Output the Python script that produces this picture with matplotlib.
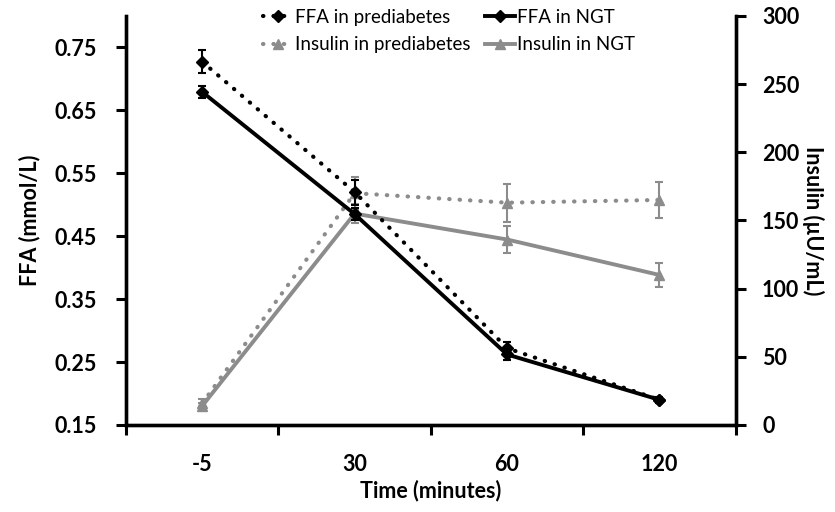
import numpy as np
import matplotlib.pyplot as plt
from matplotlib.lines import Line2D

plt.rcParams['font.family'] = ['Lato', 'DejaVu Sans']

## data
times = ['-5', '30', '60', '120']
ffa_pre = [0.727, 0.52, 0.272, 0.19]
ffa_pre_err = [0.018, 0.02, 0.01, 0.005]
ffa_ngt = [0.679, 0.485, 0.262, 0.19]
ffa_ngt_err = [0.01, 0.01, 0.008, 0.005]
ins_pre = [16, 170, 163, 165]
ins_pre_err = [3, 12, 14, 13]
ins_ngt = [14, 155, 136, 110]
ins_ngt_err = [2, 7, 10, 9]

gray = '#8c8c8c'
dots = (0, (0.1, 2.4))
x = np.arange(len(times))

fig = plt.figure(figsize=(8.35, 5.12), dpi=100)
ax = fig.add_axes([0.151, 0.17, 0.73, 0.799])
ax2 = ax.twinx()

##insulin on right axis
ax2.errorbar(x, ins_pre, yerr=ins_pre_err, color=gray, ls=dots, lw=3,
             dash_capstyle='round', marker='^', ms=7.5, capsize=3, elinewidth=1.5, capthick=1.5)
ax2.errorbar(x, ins_ngt, yerr=ins_ngt_err, color=gray, ls='-', lw=2.8,
             marker='^', ms=7.5, capsize=3, elinewidth=1.5, capthick=1.5)

##ffa on left axis, drawn on top
ax.set_zorder(ax2.get_zorder() + 1)
ax.patch.set_visible(False)
ax.errorbar(x, ffa_pre, yerr=ffa_pre_err, color='black', ls=dots, lw=3,
            dash_capstyle='round', marker='D', ms=6.5, capsize=3, elinewidth=1.5, capthick=1.5)
ax.errorbar(x, ffa_ngt, yerr=ffa_ngt_err, color='black', ls='-', lw=2.8,
            marker='D', ms=6.5, capsize=3, elinewidth=1.5, capthick=1.5)

ax.set_xlim(-0.5, 3.5)
ax.set_ylim(0.15, 0.8)
ax.set_yticks([0.15, 0.25, 0.35, 0.45, 0.55, 0.65, 0.75])
ax.set_yticklabels(['0.15', '0.25', '0.35', '0.45', '0.55', '0.65', '0.75'])
ax2.set_ylim(0, 300)
ax2.set_yticks([0, 50, 100, 150, 200, 250, 300])

ax.set_xticks(x)
ax.set_xticklabels(times)
ax.set_xticks(np.arange(-0.5, 4, 1), minor=True)
ax.tick_params(axis='x', which='major', length=0, pad=21)
ax.tick_params(axis='x', which='minor', length=7, width=2.2)

for a in (ax, ax2):
    a.spines['top'].set_visible(False)
    for s in ('left', 'right', 'bottom'):
        a.spines[s].set_linewidth(2.4)
    a.tick_params(axis='y', length=7, width=2.2, labelsize=15.5)
    for lab in a.get_yticklabels():
        lab.set_fontweight('bold')
ax.tick_params(axis='y', pad=14)
ax2.tick_params(axis='y', pad=12)
ax.tick_params(axis='x', labelsize=15.5)
for lab in ax.get_xticklabels():
    lab.set_fontweight('bold')

ax.set_xlabel('Time (minutes)', fontsize=15.5, fontweight='bold', labelpad=3)
ax.set_ylabel('FFA (mmol/L)', fontsize=15.5, fontweight='bold', labelpad=10)
ax2.set_ylabel('Insulin (µU/mL)', fontsize=15.5, fontweight='bold', rotation=270, labelpad=18)

##legend
handles = [
    Line2D([], [], color='black', ls=dots, lw=3, dash_capstyle='round', marker='D', ms=6.5),
    Line2D([], [], color=gray, ls=dots, lw=3, dash_capstyle='round', marker='^', ms=7.5),
    Line2D([], [], color='black', ls='-', lw=2.8, marker='D', ms=6.5),
    Line2D([], [], color=gray, ls='-', lw=2.8, marker='^', ms=7.5),
]
labels = ['FFA in prediabetes', 'Insulin in prediabetes', 'FFA in NGT', 'Insulin in NGT']
ax.legend(handles, labels, ncol=2, loc='center', bbox_to_anchor=(0.53, 0.963),
          frameon=False, fontsize=13.5, handlelength=1.6, handletextpad=0.1,
          columnspacing=0.8, labelspacing=0.55)

plt.savefig('out.png', dpi=100)
